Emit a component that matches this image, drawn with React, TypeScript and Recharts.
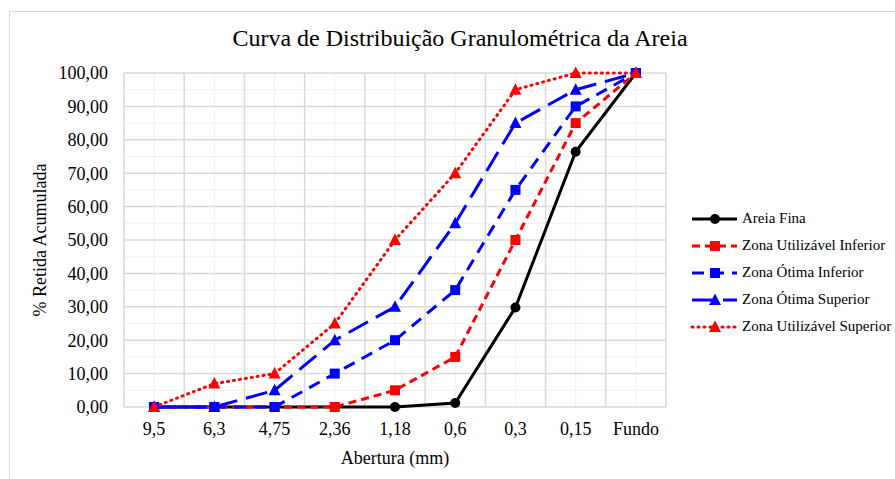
import React from 'react'
import { LineChart, Line, XAxis, YAxis, ReferenceLine } from 'recharts'

const categories = ['9,5', '6,3', '4,75', '2,36', '1,18', '0,6', '0,3', '0,15', 'Fundo']
const areiaFina = [0, 0, 0, 0, 0, 1.2, 29.8, 76.4, 100]
const zonaUtilInferior = [0, 0, 0, 0, 5, 15, 50, 85, 100]
const zonaOtimaInferior = [0, 0, 0, 10, 20, 35, 65, 90, 100]
const zonaOtimaSuperior = [0, 0, 5, 20, 30, 55, 85, 95, 100]
const zonaUtilSuperior = [0, 7, 10, 25, 50, 70, 95, 100, 100]
const yTicks = [0, 10, 20, 30, 40, 50, 60, 70, 80, 90, 100]
const yMinor = [5, 15, 25, 35, 45, 55, 65, 75, 85, 95]

const FONT = '"Liberation Serif", "Times New Roman", serif'

const data = categories.map((label, i) => ({
  x: i,
  label,
  af: areiaFina[i],
  zui: zonaUtilInferior[i],
  zoi: zonaOtimaInferior[i],
  zos: zonaOtimaSuperior[i],
  zus: zonaUtilSuperior[i],
}))

type Shape = 'circle' | 'square' | 'triangle'

const series: { key: string; name: string; color: string; dash?: string; shape: Shape }[] = [
  { key: 'af', name: 'Areia Fina', color: '#000000', shape: 'circle' },
  { key: 'zui', name: 'Zona Utilizável Inferior', color: '#ff0000', dash: '8 5', shape: 'square' },
  { key: 'zoi', name: 'Zona Ótima Inferior', color: '#0000ff', dash: '12 8', shape: 'square' },
  { key: 'zos', name: 'Zona Ótima Superior', color: '#0000ff', dash: '22 9', shape: 'triangle' },
  { key: 'zus', name: 'Zona Utilizável Superior', color: '#ff0000', dash: '1 5', shape: 'triangle' },
]

function marker(shape: Shape, cx: number, cy: number, color: string, key?: any) {
  if (shape === 'circle') return <circle key={key} cx={cx} cy={cy} r={5} fill={color} />
  if (shape === 'square')
    return <rect key={key} x={cx - 5} y={cy - 5} width={10} height={10} fill={color} />
  return (
    <polygon key={key} points={`${cx},${cy - 6.5} ${cx + 6},${cy + 5} ${cx - 6},${cy + 5}`} fill={color} />
  )
}

const halfSteps = categories.map((_, i) => i - 0.5).concat([categories.length - 0.5])

function LegendBox() {
  return (
    <div style={{ position: 'absolute', left: 690, top: 205, width: 210, fontFamily: FONT, fontSize: 15, color: '#000' }}>
      {series.map((s) => (
        <div key={s.key} style={{ display: 'flex', alignItems: 'center', height: 27 }}>
          <svg width={52} height={14}>
            <line x1={2} y1={7} x2={47} y2={7} stroke={s.color} strokeWidth={3}
              strokeDasharray={s.dash} strokeLinecap={s.dash === '1 5' ? 'round' : 'butt'} />
            {marker(s.shape, 25, 7, s.color)}
          </svg>
          <span>{s.name}</span>
        </div>
      ))}
    </div>
  )
}

const tickStyle = { fill: '#000', fontSize: 18, fontFamily: FONT }

export default function App() {
  return (
    <div style={{ position: 'absolute', left: 0, top: 0, width: 895, height: 479, background: '#fff', overflow: 'hidden', fontFamily: FONT }}>
      <div style={{ position: 'absolute', left: 9, top: 11, width: 900, height: 480, border: '1px solid #d9d9d9' }} />
      <div style={{ position: 'absolute', left: 0, top: 25, width: 920, textAlign: 'center', fontFamily: FONT, fontSize: 24, color: '#000' }}>
        Curva de Distribuição Granulométrica da Areia
      </div>
      <LineChart width={895} height={479} data={data} margin={{ top: 73, right: 229, bottom: 0, left: 60 }}
        style={{ position: 'absolute', left: 0, top: 0, fontFamily: FONT }}>
        <XAxis dataKey="x" type="number" domain={[-0.5, categories.length - 0.5]} ticks={data.map((d) => d.x)}
          tickFormatter={(v: number) => categories[v]} axisLine={false} tickLine={false} tickSize={0} tickMargin={15}
          height={72} interval={0} tick={tickStyle}
          label={{ value: 'Abertura (mm)', position: 'insideBottom', offset: 15, ...tickStyle }} />
        <YAxis type="number" domain={[0, 100]} ticks={yTicks} interval={0}
          tickFormatter={(v: number) => v.toFixed(2).replace('.', ',')}
          axisLine={false} tickLine={false} tickSize={0} tickMargin={16} width={64} tick={tickStyle}
          label={{ value: '% Retida Acumulada', angle: -90, position: 'insideLeft', offset: -20, style: { textAnchor: 'middle' }, ...tickStyle }} />
        {data.map((d) => (
          <ReferenceLine key={'vm' + d.x} x={d.x} stroke="#f0f0f0" strokeWidth={1} />
        ))}
        {yMinor.map((v) => (
          <ReferenceLine key={'hm' + v} y={v} stroke="#f0f0f0" strokeWidth={1} />
        ))}
        {halfSteps.map((v) => (
          <ReferenceLine key={'vM' + v} x={v} stroke="#d9d9d9" strokeWidth={1.5} />
        ))}
        {yTicks.map((v) => (
          <ReferenceLine key={'hM' + v} y={v} stroke="#d9d9d9" strokeWidth={1.5} />
        ))}
        {series.map((s) => (
          <Line key={s.key} dataKey={s.key} name={s.name} type="linear" stroke={s.color} strokeWidth={3}
            strokeDasharray={s.dash} strokeLinecap={s.dash === '1 5' ? 'round' : 'butt'}
            isAnimationActive={false}
            dot={(p: any) => marker(s.shape, p.cx, p.cy, s.color, p.index)}
            activeDot={false} />
        ))}
      </LineChart>
      <LegendBox />
    </div>
  )
}
